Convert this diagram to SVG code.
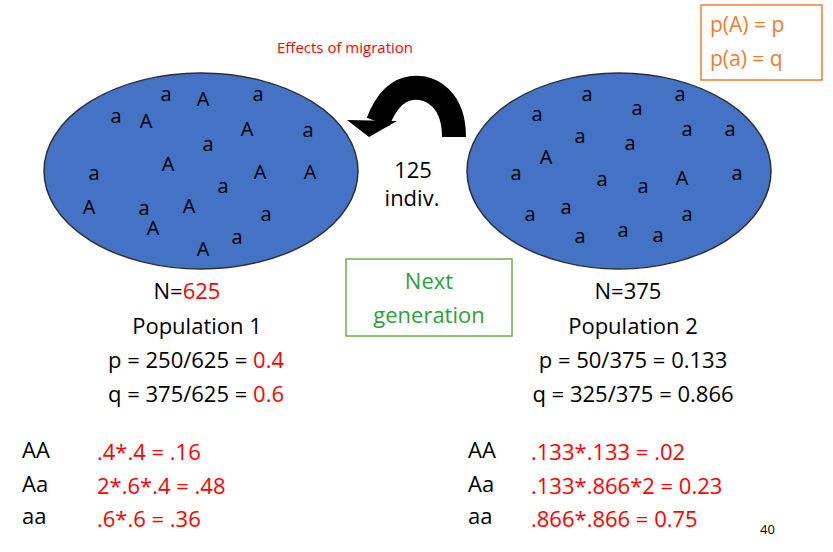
<svg xmlns="http://www.w3.org/2000/svg" width="833" height="552" viewBox="0 0 833 552">
<style>
text{font-family:"Open Sans","Noto Sans","Liberation Sans",sans-serif;fill:#000}
.al{font-size:20px;text-anchor:middle;dominant-baseline:central}
.big{font-size:22px;text-anchor:middle}
.red{fill:#ff0000}
.gt{font-size:22px}
.el{fill:#4472c4;stroke:#2f2f2f;stroke-width:1.5}
</style>
<rect width="833" height="552" fill="#fff"/>
<text x="345" y="53" font-size="15" text-anchor="middle" class="red">Effects of migration</text>
<g id="legend"><rect x="701" y="5" width="121" height="75" fill="#fff" stroke="#ed7d31" stroke-width="1.5"/>
<text x="710" y="32" font-size="21" style="fill:#ed7d31">p(A) = p</text>
<text x="710" y="66" font-size="21" style="fill:#ed7d31">p(a) = q</text></g>
<g id="pop1"><ellipse class="el" cx="201" cy="171" rx="157" ry="98"/>
<g class="al">
<text x="166" y="93">a</text><text x="203" y="98">A</text><text x="258" y="93">a</text><text x="116" y="115">a</text><text x="146" y="120">A</text><text x="247" y="128">A</text><text x="308" y="129">a</text><text x="208" y="143">a</text><text x="168" y="163">A</text><text x="94" y="172">a</text><text x="260" y="171">A</text><text x="310" y="171">A</text><text x="223" y="185">a</text><text x="89" y="206">A</text><text x="144" y="207">a</text><text x="189" y="205">A</text><text x="153" y="227">A</text><text x="266" y="213">a</text><text x="237" y="236">a</text><text x="203" y="248">A</text>
</g></g>
<g id="pop2"><ellipse class="el" cx="619" cy="171" rx="152" ry="98"/>
<g class="al">
<text x="587" y="93">a</text><text x="680" y="93">a</text><text x="537" y="113">a</text><text x="637" y="107">a</text><text x="580" y="135">a</text><text x="630" y="142">a</text><text x="687" y="128">a</text><text x="730" y="128">a</text><text x="546" y="156">A</text><text x="516" y="172">a</text><text x="602" y="178">a</text><text x="643" y="185">a</text><text x="682" y="177">A</text><text x="737" y="172">a</text><text x="530" y="213">a</text><text x="566" y="206">a</text><text x="687" y="213">a</text><text x="580" y="235">a</text><text x="623" y="229">a</text><text x="658" y="234">a</text>
</g></g>
<g id="connectors">
<path d="M 454 137 C 454 100, 432 86, 412 88 C 395 90, 385 104, 378 122" fill="none" stroke="#000" stroke-width="24"/>
<polygon points="347,120 397,121 369,137" fill="#000"/>
</g>
<text x="413" y="178" class="big">125</text>
<text x="412" y="206" class="big">indiv.</text>
<g id="nextgen"><rect x="346" y="259" width="166" height="77" fill="#fff" stroke="#70ad47" stroke-width="1.5"/>
<text x="429" y="289" class="big" style="fill:#2e9e3a">Next</text>
<text x="429" y="323" class="big" style="fill:#2e9e3a">generation</text></g>
<text x="187" y="299" class="big">N=<tspan class="red">625</tspan></text>
<text x="197" y="334" class="big">Population 1</text>
<text x="196" y="368" class="big">p = 250/625 = <tspan class="red">0.4</tspan></text>
<text x="196" y="402" class="big">q = 375/625 = <tspan class="red">0.6</tspan></text>
<text x="628" y="299" class="big">N=375</text>
<text x="633" y="334" class="big">Population 2</text>
<text x="633" y="368" class="big">p = 50/375 = 0.133</text>
<text x="633" y="402" class="big">q = 325/375 = 0.866</text>
<g class="gt">
<text x="22" y="458">AA</text><text x="22" y="492">Aa</text><text x="22" y="524">aa</text>
<text x="97" y="460" class="red">.4*.4 = .16</text><text x="97" y="494" class="red">2*.6*.4 = .48</text><text x="97" y="527" class="red">.6*.6 = .36</text>
<text x="468" y="458">AA</text><text x="468" y="492">Aa</text><text x="468" y="524">aa</text>
<text x="531" y="460" class="red">.133*.133 = .02</text><text x="531" y="494" class="red">.133*.866*2 = 0.23</text><text x="531" y="527" class="red">.866*.866 = 0.75</text>
</g>
<text x="760" y="534" font-size="13">40</text>
</svg>
